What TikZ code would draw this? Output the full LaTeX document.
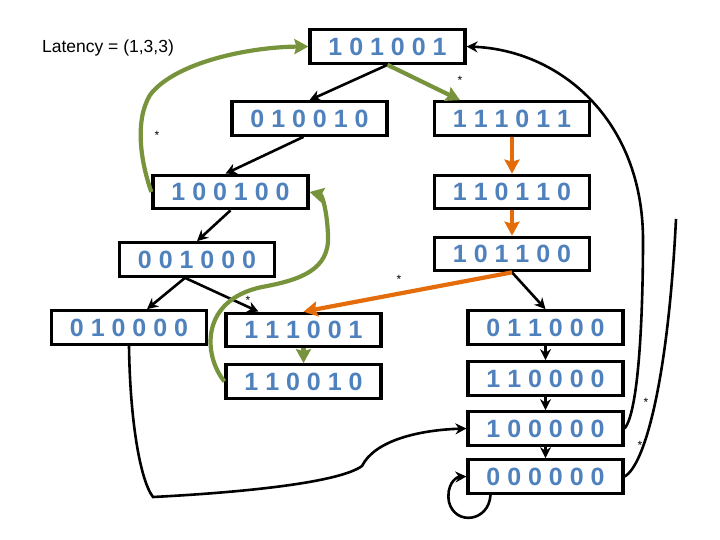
\documentclass[tikz,border=0pt]{standalone}
\usepackage{fontspec}
\setmainfont{Liberation Sans}
\usetikzlibrary{arrows.meta}
\definecolor{digblue}{RGB}{79,129,189}
\definecolor{olivegreen}{RGB}{119,147,60}
\definecolor{darkorange}{RGB}{228,108,10}
\begin{document}
\begin{tikzpicture}[x=1pt,y=-1pt,
  state/.style={draw=black, line width=3.2pt, minimum width=155pt, minimum height=33.5pt, inner sep=0pt, font=\fontsize{25}{30}\selectfont\bfseries, text=digblue},
  blk/.style={draw=black, line width=2.6pt, -{Stealth[length=11pt,width=11pt]}},
  grn/.style={draw=olivegreen, line width=4.2pt, -{Stealth[length=14pt,width=15pt,inset=2pt]}},
  org/.style={draw=darkorange, line width=4.2pt, -{Stealth[length=14pt,width=15pt,inset=2pt]}},
  star/.style={font=\fontsize{12}{12}\selectfont, inner sep=0pt}]
\useasboundingbox[fill=white] (0,0) rectangle (720,540);

% states
\node[state] (a)  at (387.5,46.5)  {1 0 1 0 0 1};
\node[state] (b)  at (309.5,118.5) {0 1 0 0 1 0};
\node[state] (c)  at (512,118.5)   {1 1 1 0 1 1};
\node[state] (d)  at (230.5,192)   {1 0 0 1 0 0};
\node[state] (e)  at (512,192)     {1 1 0 1 1 0};
\node[state] (f)  at (197,259.5)   {0 0 1 0 0 0};
\node[state] (g)  at (512,254)     {1 0 1 1 0 0};
\node[state] (h)  at (129,327.5)   {0 1 0 0 0 0};
\node[state] (i)  at (303.5,330)   {1 1 1 0 0 1};
\node[state] (j)  at (545.5,327.5) {0 1 1 0 0 0};
\node[state] (k)  at (303.5,381.5) {1 1 0 0 1 0};
\node[state] (l)  at (545.5,378.5) {1 1 0 0 0 0};
\node[state] (m)  at (545.5,428.5) {1 0 0 0 0 0};
\node[state] (n)  at (545.5,476.5) {0 0 0 0 0 0};

\node[font=\fontsize{17.5}{20}\selectfont] (lat) at (108,48) {Latency = (1,3,3)};

% asterisks
\node[star] (s1) at (460,80)  {*};
\node[star] (s2) at (157,135) {*};
\node[star] (s3) at (399,279) {*};
\node[star] (s4) at (248,300) {*};
\node[star] (s5) at (646,402) {*};
\node[star] (s6) at (640,445) {*};

\coordinate (bend) at (676,219);

% black arrows
\draw[blk] (a.south) -- (b.north);
\draw[blk] ([xshift=-6pt]b.south) -- ([xshift=-5pt]d.north);
\draw[blk] (d.south) -- (f.north);
\draw[blk] ([xshift=-12pt]f.south) -- ([xshift=18pt]h.north);
\draw[blk] ([xshift=-12pt]f.south) -- ([xshift=-45pt]i.north);
\draw[blk] (g.south) -- (j.north);
\draw[blk] (j.south) -- (l.north);
\draw[blk] (l.south) -- (m.north);
\draw[blk] (m.south) -- (n.north);
\draw[blk] ([xshift=-55pt]n.south) .. controls (489,522) and (455,526) .. (449,502)
   .. controls (446,486) and (455,477) .. (n.west);
\draw[blk] (m.east) .. controls (640,410) and (643,300) .. (643,240)
   .. controls (643,120) and (560,50) .. (a.east);
\draw[line width=2.6pt] (n.east) .. controls (645,465) and (668,380) .. (bend);
\draw[blk] (h.south) .. controls (130,420) and (140,480) .. (153,497)
   .. controls (250,492) and (340,482) .. (362,466)
   .. controls (375,440) and (420,430) .. (m.west);

% green arrows
\draw[grn] (a.south) -- ([xshift=-52pt]c.north);
\draw[grn] (d.west) .. controls (140,160) and (135,120) .. (150,95)
   .. controls (175,62) and (250,47) .. (a.west);
\draw[grn] (k.west) .. controls (203,355) and (200,300) .. (262,287)
   .. controls (300,280) and (330,270) .. (328,235)
   .. controls (327,210) and (322,195) .. (d.east);
\draw[grn] (i.south) -- (k.north);

% orange arrows
\draw[org] (c.south) -- (e.north);
\draw[org] (e.south) -- (g.north);
\draw[org] (g.south) -- (i.north);
\end{tikzpicture}
\end{document}
